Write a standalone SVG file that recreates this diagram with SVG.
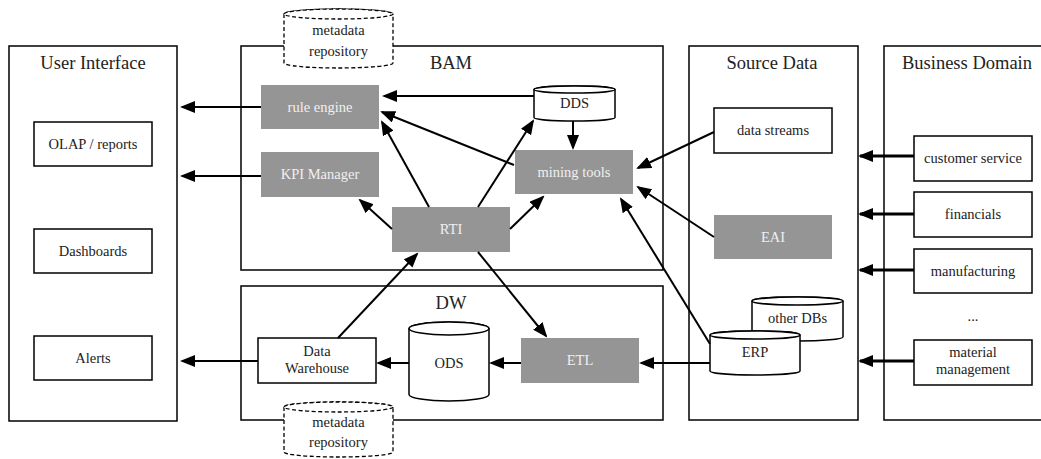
<svg xmlns="http://www.w3.org/2000/svg" width="1041" height="459" viewBox="0 0 1041 459">
<defs>
<style>
.frame{fill:none;stroke:#000;stroke-width:1.5}
.box{fill:#fff;stroke:#000;stroke-width:1.5}
.gray{fill:#959595;stroke:none}
.cyl{fill:#fff;stroke:#000;stroke-width:1.5}
.meta{fill:#fff;stroke:#000;stroke-width:1.3;stroke-dasharray:4 2.5}
.t{font-family:"Liberation Serif","DejaVu Serif",serif;font-size:14.5px;fill:#222;text-anchor:middle}
.tw{font-family:"Liberation Serif","DejaVu Serif",serif;font-size:14.5px;fill:#f0f0f0;text-anchor:middle}
.title{font-family:"Liberation Serif","DejaVu Serif",serif;font-size:18.5px;fill:#222;text-anchor:middle}
.a{fill:none;stroke:#000;stroke-width:2;marker-end:url(#ah)}
.ab{fill:none;stroke:#000;stroke-width:3;marker-end:url(#ah)}
</style>
<marker id="ah" markerUnits="userSpaceOnUse" markerWidth="16" markerHeight="14" refX="13" refY="6" orient="auto" viewBox="0 0 16 14">
<path d="M0,0 L15,6 L0,12 Z" fill="#000"/>
</marker>
</defs>

<g id="user-interface">
<rect class="frame" x="9" y="46" width="168" height="375"/>
<text class="title" x="93" y="69">User Interface</text>
</g>
<g id="olap"><rect class="box" x="34" y="122" width="118" height="44"/><text class="t" x="93" y="149">OLAP / reports</text></g>
<g id="dashboards"><rect class="box" x="34" y="229" width="118" height="44"/><text class="t" x="93" y="256">Dashboards</text></g>
<g id="alerts"><rect class="box" x="34" y="336" width="118" height="44"/><text class="t" x="93" y="363">Alerts</text></g>

<g id="bam">
<rect class="frame" x="241" y="46" width="422" height="224"/>
<text class="title" x="451" y="69">BAM</text>
</g>
<g id="dw">
<rect class="frame" x="241" y="286" width="422" height="134"/>
<text class="title" x="451" y="309">DW</text>
</g>
<g id="source-data">
<rect class="frame" x="689" y="46" width="169" height="374"/>
<text class="title" x="772" y="69">Source Data</text>
</g>
<g id="business-domain">
<rect class="frame" x="884" y="46" width="170" height="374"/>
<text class="title" x="967" y="69">Business Domain</text>
</g>

<g id="metadata-top">
<path class="meta" d="M284,14 V63 A54.5,5 0 0 0 393,63 V14 A54.5,5 0 0 0 284,14 Z"/>
<ellipse class="meta" cx="338.5" cy="14" rx="54.5" ry="5"/>
<text class="t" x="338.5" y="35">metadata</text>
<text class="t" x="338.5" y="56">repository</text>
</g>
<g id="metadata-bottom">
<path class="meta" d="M284,407 V452 A54.5,5 0 0 0 393,452 V407 A54.5,5 0 0 0 284,407 Z"/>
<ellipse class="meta" cx="338.5" cy="407" rx="54.5" ry="5"/>
<text class="t" x="338.5" y="427">metadata</text>
<text class="t" x="338.5" y="447">repository</text>
</g>

<g id="rule-engine"><rect class="gray" x="261" y="85" width="118" height="44"/><text class="tw" x="320" y="112">rule engine</text></g>
<g id="kpi-manager"><rect class="gray" x="261" y="152" width="118" height="45"/><text class="tw" x="320" y="179">KPI Manager</text></g>
<g id="dds">
<path class="cyl" d="M534,89.5 V117.5 A40.5,3.5 0 0 0 615,117.5 V89.5 A40.5,3.5 0 0 0 534,89.5 Z"/>
<ellipse class="cyl" cx="574.5" cy="89.5" rx="40.5" ry="3.5"/>
<text class="t" x="574.5" y="108">DDS</text>
</g>
<g id="mining-tools"><rect class="gray" x="515" y="150" width="118" height="44"/><text class="tw" x="574" y="177">mining tools</text></g>
<g id="rti"><rect class="gray" x="392" y="207" width="118" height="45"/><text class="tw" x="451" y="234">RTI</text></g>

<g id="data-warehouse"><rect class="box" x="258" y="338" width="118" height="45"/><text class="t" x="317" y="356">Data</text><text class="t" x="317" y="373">Warehouse</text></g>
<g id="ods">
<path class="cyl" d="M409,328.5 V394.5 A40,6.5 0 0 0 489,394.5 V328.5 A40,6.5 0 0 0 409,328.5 Z"/>
<ellipse class="cyl" cx="449" cy="328.5" rx="40" ry="6.5"/>
<text class="t" x="449" y="368">ODS</text>
</g>
<g id="etl"><rect class="gray" x="521" y="338" width="118" height="45"/><text class="tw" x="580" y="365">ETL</text></g>

<g id="data-streams"><rect class="box" x="714" y="108" width="118" height="45"/><text class="t" x="773" y="135">data streams</text></g>
<g id="eai"><rect class="gray" x="714" y="215" width="118" height="44"/><text class="tw" x="773" y="242">EAI</text></g>
<g id="other-dbs">
<path class="cyl" d="M752,301 V337 A45.5,4 0 0 0 843,337 V301 A45.5,4 0 0 0 752,301 Z"/>
<ellipse class="cyl" cx="797.5" cy="301" rx="45.5" ry="4"/>
<text class="t" x="797.5" y="323">other DBs</text>
</g>
<g id="erp">
<path class="cyl" d="M710,335 V371 A45,4 0 0 0 800,371 V335 A45,4 0 0 0 710,335 Z"/>
<ellipse class="cyl" cx="755" cy="335" rx="45" ry="4"/>
<text class="t" x="755" y="357">ERP</text>
</g>

<g id="customer-service"><rect class="box" x="914" y="136" width="118" height="45"/><text class="t" x="973" y="163">customer service</text></g>
<g id="financials"><rect class="box" x="914" y="192" width="118" height="45"/><text class="t" x="973" y="219">financials</text></g>
<g id="manufacturing"><rect class="box" x="914" y="249" width="118" height="44"/><text class="t" x="973" y="276">manufacturing</text></g>
<g id="ellipsis"><text class="t" x="973" y="321">...</text></g>
<g id="material-management"><rect class="box" x="914" y="340" width="118" height="45"/><text class="t" x="973" y="357">material</text><text class="t" x="973" y="374">management</text></g>

<g id="connectors">
<path class="a" d="M261,107 L182,107"/>
<path class="a" d="M261,176 L182,176"/>
<path class="a" d="M258,361 L182,361"/>
<path class="a" d="M534,96 L384,96"/>
<path class="a" d="M514,165 L382,112"/>
<path class="a" d="M429,207 L382,122"/>
<path class="a" d="M392,229 L360,200"/>
<path class="a" d="M478,207 L533,121"/>
<path class="a" d="M510,229 L543,197"/>
<path class="a" d="M573,121 L573,148"/>
<path class="a" d="M714,132 L638,168"/>
<path class="a" d="M714,237 L638,187"/>
<path class="a" d="M710,344 L621,199"/>
<path class="a" d="M338,338 L417,254"/>
<path class="a" d="M478,252 L546,336"/>
<path class="a" d="M409,363 L378,363"/>
<path class="a" d="M521,363 L491,363"/>
<path class="a" d="M710,363 L641,363"/>
<path class="ab" d="M914,156 L860,156"/>
<path class="ab" d="M914,214 L860,214"/>
<path class="ab" d="M914,270 L860,270"/>
<path class="ab" d="M914,361 L860,361"/>
</g>
</svg>
